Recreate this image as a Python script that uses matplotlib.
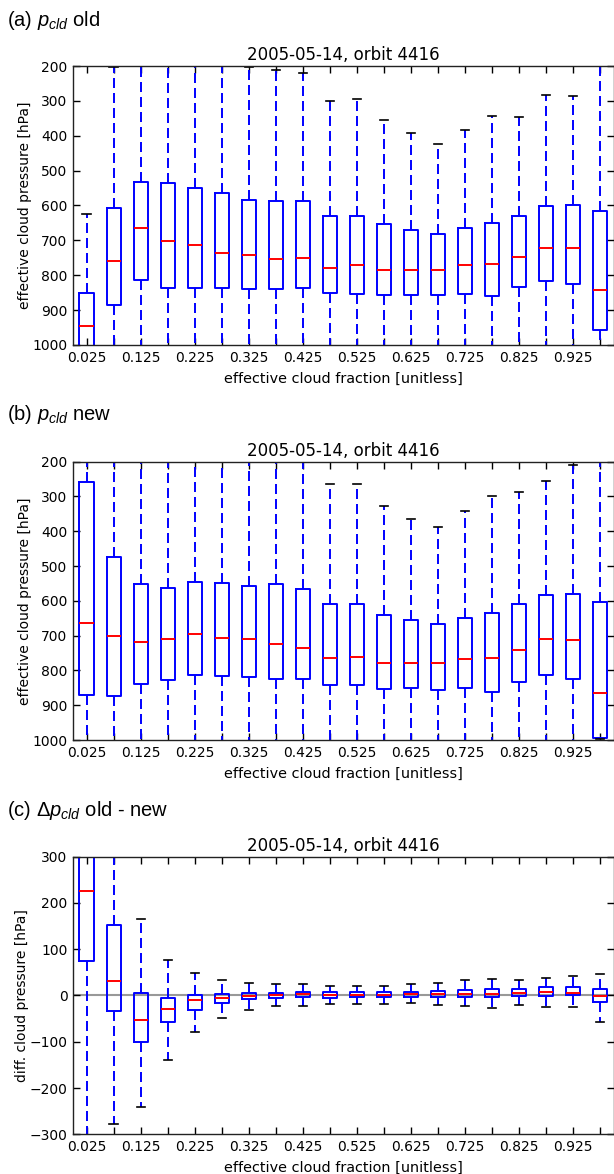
import matplotlib
matplotlib.use("Agg")
import matplotlib.pyplot as plt

plt.rcParams["font.family"] = "DejaVu Sans"
plt.rcParams["font.size"] = 10
plt.rcParams["mathtext.fontset"] = "custom"
plt.rcParams["mathtext.rm"] = "Liberation Sans"
plt.rcParams["mathtext.it"] = "Liberation Sans:italic"
plt.rcParams["lines.scale_dashes"] = False

# box centres (effective cloud fraction bins)
cf_bins = [0.025, 0.075, 0.125, 0.175, 0.225, 0.275, 0.325, 0.375, 0.425, 0.475,
           0.525, 0.575, 0.625, 0.675, 0.725, 0.775, 0.825, 0.875, 0.925, 0.975]
cf_labels = ["0.025", "", "0.125", "", "0.225", "", "0.325", "", "0.425", "",
             "0.525", "", "0.625", "", "0.725", "", "0.825", "", "0.925", ""]

# (a) old cloud pressure [hPa]
old_wlo = [625, 202, 190, 190, 190, 190, 202, 211, 221, 300,
           295, 355, 393, 424, 384, 342, 347, 284, 286, 190]
old_q1 = [850, 606, 532, 535, 549, 565, 583, 588, 586, 629,
          629, 654, 669, 682, 664, 649, 629, 601, 598, 615]
old_med = [945, 758, 664, 701, 712, 735, 742, 753, 750, 778,
           770, 784, 784, 786, 772, 767, 747, 721, 721, 841]
old_q3 = [1005, 885, 813, 836, 836, 837, 839, 839, 836, 851,
          853, 858, 856, 856, 853, 859, 834, 816, 825, 958]
old_whi = [1013] * 20

# (b) new cloud pressure [hPa]
new_wlo = [190, 190, 190, 190, 190, 190, 190, 190, 190, 265,
           265, 326, 365, 388, 341, 298, 288, 256, 210, 190]
new_q1 = [257, 473, 551, 562, 545, 549, 558, 551, 567, 610,
          610, 642, 655, 667, 648, 636, 610, 584, 580, 603]
new_med = [665, 702, 718, 710, 695, 706, 710, 725, 735, 764,
           760, 780, 780, 780, 768, 764, 742, 710, 713, 864]
new_q3 = [871, 873, 840, 827, 814, 817, 820, 824, 825, 841,
          843, 853, 850, 856, 851, 861, 833, 813, 825, 994]
new_whi = [1013] * 19 + [998]

# (c) difference old - new [hPa]
diff_wlo = [-320, -278, -240, -139, -79, -49, -31, -23, -22, -18,
            -18, -18, -16, -20, -23, -27, -21, -25, -25, -57]
diff_q1 = [74, -33, -101, -58, -32, -17, -8, -5, -4, -5,
           -4, -4, -3, -3, -3, -3, -0.5, -0.5, 0.5, -15]
diff_med = [225, 31, -54, -29, -10, -5, -1, 0, 2.5, 2,
            2, 2, 4, 3, 4, 3, 5, 7, 5, -0.5]
diff_q3 = [320, 153, 5, -5, 0.5, 4, 6, 6, 7.5, 7,
           7, 7, 8, 10, 12, 14, 14, 18, 18, 13]
diff_whi = [330, 330, 166, 77, 49, 34, 28, 25, 25, 21,
            21, 21, 25, 28, 33, 35, 33, 37, 43, 46]


def make_stats(wlo, q1, med, q3, whi):
    return [dict(whislo=a, q1=b, med=c, q3=d, whishi=e, fliers=[])
            for a, b, c, d, e in zip(wlo, q1, med, q3, whi)]


def draw_panel(ax, stats, yticks, ylim, ylabel):
    ax.bxp(stats, positions=cf_bins, widths=0.026, showfliers=False,
           boxprops=dict(color="#0000ff", linewidth=1.4),
           medianprops=dict(color="#ff0000", linewidth=1.4),
           whiskerprops=dict(color="#0000ff", linewidth=1.4, linestyle=(0, (7.2, 3.6))),
           capprops=dict(color="black", linewidth=1.2),
           capwidths=0.015)
    ax.set_xlim(0, 1)
    ax.set_ylim(*ylim)
    ax.set_xticks(cf_bins)
    ax.set_xticklabels(cf_labels)
    ax.set_yticks(yticks)
    ax.tick_params(direction="in", top=True, right=True, length=5, width=1,
                   labelsize=10, pad=4)
    ax.set_title("2005-05-14, orbit 4416", fontsize=12, pad=4)
    ax.set_xlabel("effective cloud fraction [unitless]", fontsize=10.4, labelpad=5)
    ax.set_ylabel(ylabel, fontsize=10, labelpad=0.5)
    for s in ax.spines.values():
        s.set_linewidth(1.0)
        s.set_color("#222222")


fig = plt.figure(figsize=(6.14, 11.74), dpi=100)
W, H = 614.0, 1174.0
left, right = 73 / W, 613.5 / W

ax_a = fig.add_axes([left, 1 - 345 / H, right - left, 279 / H])
draw_panel(ax_a, make_stats(old_wlo, old_q1, old_med, old_q3, old_whi),
           range(200, 1001, 100), (1000, 200), "effective cloud pressure [hPa]")

ax_b = fig.add_axes([left, 1 - 740 / H, right - left, 278.3 / H])
draw_panel(ax_b, make_stats(new_wlo, new_q1, new_med, new_q3, new_whi),
           range(200, 1001, 100), (1000, 200), "effective cloud pressure [hPa]")

ax_c = fig.add_axes([left, 1 - 1134.3 / H, right - left, 277.6 / H])
ax_c.axhline(0, color="#999999", linewidth=1.5, zorder=0)
draw_panel(ax_c, make_stats(diff_wlo, diff_q1, diff_med, diff_q3, diff_whi),
           range(-300, 301, 100), (-300, 300), "diff. cloud pressure [hPa]")

lab_kw = dict(fontsize=14.5, family="Liberation Sans", va="center", ha="left")
fig.text(7 / W, 1 - 20 / H, r"(a) $p_{cld}$ old", **lab_kw)
fig.text(7 / W, 1 - 415 / H, r"(b) $p_{cld}$ new", **lab_kw)
fig.text(7 / W, 1 - 810 / H, r"(c) $\Delta p_{cld}$ old - new", **lab_kw)

fig.savefig("out.png", dpi=100)
